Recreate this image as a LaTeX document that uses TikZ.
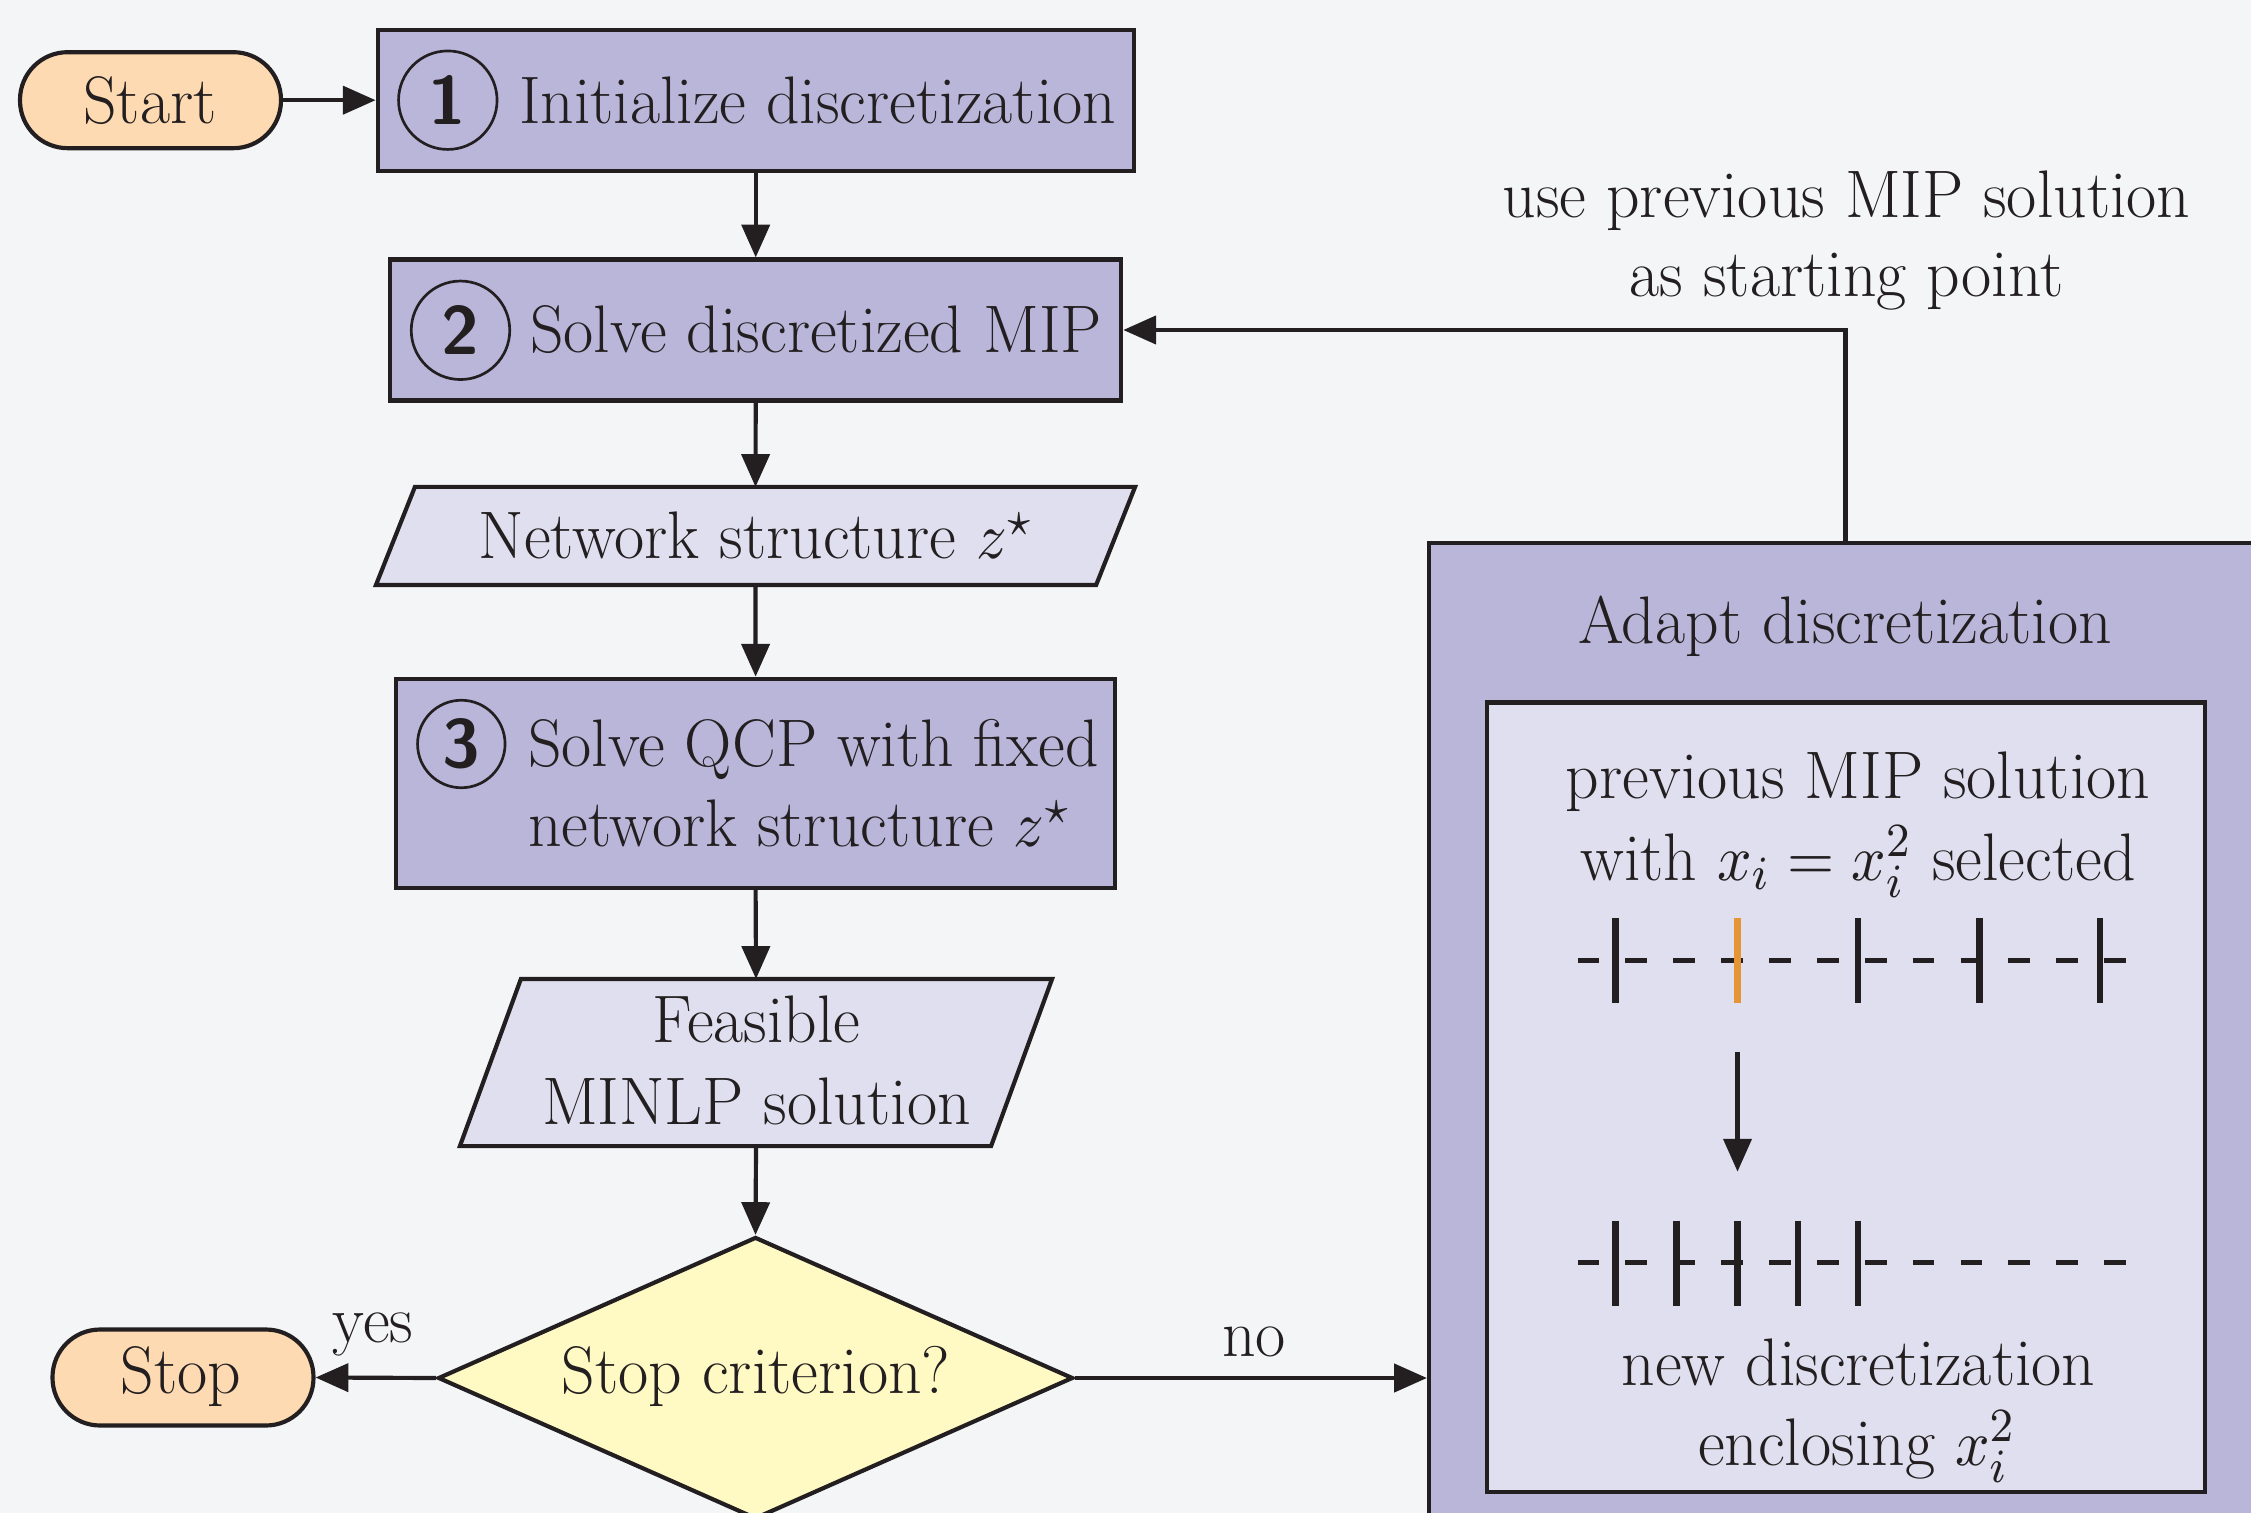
\documentclass[tikz,border=0pt]{standalone}
\usepackage{fontspec}
\usepackage{graphicx}
\setmainfont{lmroman17-regular.otf}[FakeStretch=0.976, Ligatures=TeX]
\newfontfamily\digitfont{lmsans10-bold.otf}
\usetikzlibrary{arrows.meta,shapes.geometric,calc}

\definecolor{bgcol}{RGB}{244,245,247}
\definecolor{ink}{RGB}{35,31,32}
\definecolor{stepfill}{RGB}{186,182,218}
\definecolor{datafill}{RGB}{224,223,239}
\definecolor{termfill}{RGB}{254,218,178}
\definecolor{decfill}{RGB}{255,249,196}
\definecolor{selcol}{RGB}{229,149,52}

% one drawing unit
\newcommand\pxlen{0.168pt}
% slightly narrowed math to sit with the text face
\newcommand\mth[1]{\scalebox{0.93}[1]{$#1$}}

\tikzset{
  sized/.style 2 args={minimum width={#1*\pxlen}, minimum height={#2*\pxlen}},
  shapebase/.style={inner sep=0pt, outer sep=0.35pt, line width=0.7pt, draw=ink},
  stepbox/.style={shapebase, rectangle, fill=stepfill},
  databox/.style={shapebase, rectangle, fill=datafill},
  hiddenbox/.style={rectangle, inner sep=0pt, outer sep=0.35pt, line width=0.7pt},
  datashape/.style={draw=ink, fill=datafill, line width=0.7pt, line join=miter},
  terminal/.style={shapebase, rectangle, rounded corners=8pt, fill=termfill},
  decision/.style={shapebase, diamond, fill=decfill},
  numcirc/.style={circle, draw=ink, line width=0.45pt, inner sep=0pt, text=ink,
    font=\digitfont\fontsize{11.5}{12}\selectfont},
  txt/.style={inner sep=0pt, anchor=base, text=ink, font=\fontsize{11.3}{13.4}\selectfont},
  conn/.style={draw=ink, line width=0.7pt, -{Triangle[length=5.5pt,width=4.7pt]}},
  discline/.style={draw=ink, line width=0.9pt, dash pattern=on 3.66pt off 4.38pt},
  tick/.style={draw=ink, line width=1.16pt},
  seltick/.style={draw=selcol, line width=1.16pt},
}

\begin{document}
\begin{tikzpicture}[x=0.168pt, y=-0.168pt]
\useasboundingbox (0,0) rectangle (2251,1513);
\clip (0,0) rectangle (2251,1513);
\fill[bgcol] (0,0) rectangle (2251,1513);

% ---- main column ----
\node[terminal, sized={261}{96}] (start) at (150.5,100.2) {};
\node[txt] (tstart) at (150,123.5) {Start};

\node[stepbox, sized={756}{141}] (box1) at (755.7,100.2) {};
\node[numcirc, minimum size={98.5*\pxlen}] (c1) at (447.8,100.2) {1};
\node[txt, anchor=base west] (t1) at (518,123.3) {Initialize discretization};

\node[stepbox, sized={731}{141}] (box2) at (755.7,330) {};
\node[numcirc, minimum size={98.5*\pxlen}] (c2) at (460.5,330.3) {2};
\node[txt, anchor=base west] (t2) at (529,353) {Solve discretized MIP};

\node[hiddenbox, sized={716}{94}] (net) at (755.5,536) {};
\filldraw[datashape] ($(net.south west)+(-19.5,0)$) -- ($(net.south east)+(-19.5,0)$)
  -- ($(net.north east)+(19.5,0)$) -- ($(net.north west)+(19.5,0)$) -- cycle;
\node[txt] (tnet) at (756,559) {Network structure \mth{z^\star}};

\node[stepbox, sized={718.5}{209.3}] (box3) at (755.6,783.4) {};
\node[numcirc, minimum size={87.5*\pxlen}] (c3) at (461.3,744) {3};
\node[txt, anchor=base west] (t3a) at (527,766.7) {Solve QCP with fixed};
\node[txt, anchor=base west] (t3b) at (527,846.7) {network structure \mth{z^\star}};

\node[hiddenbox, sized={527}{163}] (feas) at (756,1062.5) {};
\filldraw[datashape] ($(feas.south west)+(-30.5,0)$) -- ($(feas.south east)+(-30.5,0)$)
  -- ($(feas.north east)+(30.5,0)$) -- ($(feas.north west)+(30.5,0)$) -- cycle;
\node[txt] (tfeas1) at (756.5,1042) {Feasible};
\node[txt] (tfeas2) at (756.5,1124) {MINLP solution};

\node[decision, sized={635}{282}] (dec) at (755.5,1378) {};
\node[txt] (tdec) at (756,1393) {Stop criterion?};

\node[terminal, sized={261}{96}] (stop) at (183,1377.5) {};
\node[txt] (tstop) at (181,1393) {Stop};

% ---- adaptation block ----
\node[stepbox, sized={833}{1007}] (outer) at (1845.5,1046.5) {};
\node[txt] (tadapt) at (1845,644) {Adapt discretization};
\node[databox, sized={718}{789.5}] (inner) at (1846,1097.3) {};
\node[txt] (tprev1) at (1858,798.5) {previous MIP solution};
\node[txt] (tprev2) at (1858,880) {with \mth{x_i = x_i^2} selected};
\node[txt] (tnew1) at (1858.5,1385) {new discretization};
\node[txt] (tnew2) at (1857,1465) {enclosing \mth{x_i^2}};

% old breakpoints, selected one highlighted
\coordinate (r1a) at (1577.6,960.7);
\coordinate (r1b) at (2126,960.7);
\draw[discline] (r1a) -- (r1b);
\foreach \bx in {1615.8,1858,1979.4,2100}
  \draw[tick] (\bx,918.3) -- (\bx,1003.2);
\draw[seltick] (1737.5,918.3) -- (1737.5,1003.2);

% refined breakpoints
\coordinate (r2a) at (1577.6,1262.7);
\coordinate (r2b) at (2126,1262.7);
\draw[discline] (r2a) -- (r2b);
\foreach \bx in {1615.8,1676.3,1737.5,1798,1858}
  \draw[tick] (\bx,1220.6) -- (\bx,1305.6);

\coordinate (rfa) at (1737.5,1051.5);
\coordinate (rfb) at (1737.5,1171.6);
\draw[conn] (rfa) -- (rfb);

% ---- connectors ----
\draw[conn] (start.east) -- (start.east -| box1.west);
\draw[conn] (box1.south) -- (box2.north);
\draw[conn] (box2.south) -- (net.north);
\draw[conn] (net.south) -- (box3.north);
\draw[conn] (box3.south) -- (feas.north);
\draw[conn] (feas.south) -- (dec.north);
\draw[conn] (dec.west) -- (stop.east);
\draw[conn] (dec.east) -- (dec.east -| outer.west);
\draw[conn] (outer.north) |- (box2.east);

\node[txt] (tyes) at (373,1342.7) {yes};
\node[txt] (tno) at (1254,1356) {no};
\node[txt] (tuse1) at (1846.5,218) {use previous MIP solution};
\node[txt] (tuse2) at (1846.5,297) {as starting point};
\end{tikzpicture}
\end{document}
